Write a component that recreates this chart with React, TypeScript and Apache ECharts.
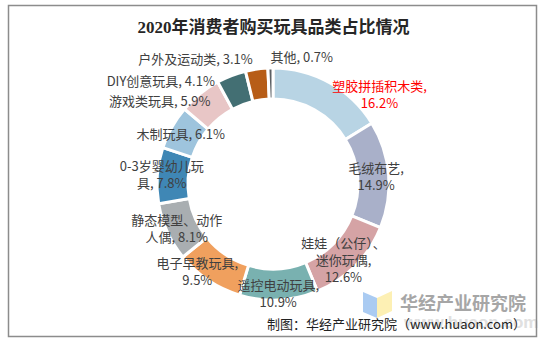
import React, { useEffect, useRef } from "react";
import * as echarts from "echarts";

const categories = [
  "塑胶拼插积木类",
  "毛绒布艺",
  "娃娃（公仔）、迷你玩偶",
  "遥控电动玩具",
  "电子早教玩具",
  "静态模型、动作人偶",
  "0-3岁婴幼儿玩具",
  "木制玩具",
  "游戏类玩具",
  "DIY创意玩具",
  "户外及运动类",
  "其他",
];
const shares = [16.2, 14.9, 12.6, 10.9, 9.5, 8.1, 7.8, 6.1, 5.9, 4.1, 3.1, 0.7];
const labelTexts = [
  "塑胶拼插积木类,\n16.2%",
  "毛绒布艺,\n14.9%",
  "娃娃（公仔）、\n迷你玩偶,\n12.6%",
  "遥控电动玩具,\n10.9%",
  "电子早教玩具,\n9.5%",
  "静态模型、动作\n人偶, 8.1%",
  "0-3岁婴幼儿玩\n具, 7.8%",
  "木制玩具, 6.1%",
  "游戏类玩具, 5.9%",
  "DIY创意玩具, 4.1%",
  "户外及运动类, 3.1%",
  "其他, 0.7%",
];
const colors = [
  "#b8d4e4", "#a9b0c9", "#d5a3a5", "#79b1b0", "#f0a05e", "#a9aeb1",
  "#3f87b5", "#9ec4dd", "#e8c6c6", "#436f73", "#b75d17", "#5b5f63",
];
const labelNudges = [
  [56, 0], [0, 1], [-3, 3], [0, 6], [-18, 1], [-2, 1],
  [-8, -2], [-2, 0], [-48, -3], [-75, -7], [-63, -23], [31, -24],
];

export default function App() {
  const ref = useRef<HTMLDivElement>(null);
  useEffect(() => {
    const chart = echarts.init(ref.current!, null, { renderer: "svg" });
    chart.setOption({
      animation: false,
      backgroundColor: "#ffffff",
      title: {
        text: "2020年消费者购买玩具品类占比情况",
        left: "center",
        top: 14,
        textStyle: {
          fontFamily: "'Liberation Serif', 'Noto Sans CJK SC', serif",
          fontSize: 17,
          fontWeight: "bold",
          color: "#262626",
        },
      },
      series: [
        {
          type: "pie",
          center: [273, 184],
          radius: [85, 116],
          startAngle: 90,
          clockwise: true,
          avoidLabelOverlap: false,
          itemStyle: { borderColor: "#ffffff", borderWidth: 3 },
          label: {
            show: true,
            position: "inside",
            fontFamily: "'Noto Sans CJK SC', sans-serif",
            fontSize: 13,
            lineHeight: 17,
            color: "#404040",
            formatter: (p: any) => labelTexts[p.dataIndex],
          },
          labelLine: { show: false },
          labelLayout: (p: any) => ({
            dx: labelNudges[p.dataIndex][0],
            dy: labelNudges[p.dataIndex][1],
          }),
          data: categories.map((name, i) => ({
            name,
            value: shares[i],
            itemStyle: { color: colors[i] },
            label: i === 0 ? { color: "#ff0000" } : undefined,
          })),
        },
      ],
      graphic: [
        {
          type: "rect",
          shape: { x: 8.5, y: 5.5, width: 528, height: 331 },
          style: { fill: "none", stroke: "#8c8c8c", lineWidth: 1.5 },
          z: 10,
        },
        {
          type: "polygon",
          shape: { points: [[363, 292], [377, 298], [377, 318], [363, 312]] },
          style: { fill: "#aacbf2" },
        },
        {
          type: "polygon",
          shape: { points: [[377, 298], [392, 291], [392, 311], [377, 318]] },
          style: { fill: "#fdf0b4" },
        },
        {
          type: "text",
          x: 400,
          y: 302,
          style: {
            text: "华经产业研究院",
            fontFamily: "'Noto Sans CJK SC', sans-serif",
            fontSize: 18,
            fontWeight: "bold",
            fill: "#a6a6a6",
            verticalAlign: "middle",
          },
        },
        {
          type: "text",
          x: 404,
          y: 322,
          style: {
            text: "www.huaon.com",
            fontFamily: "'Liberation Sans', sans-serif",
            fontSize: 17,
            fontWeight: "bold",
            fill: "#e0e0e0",
            verticalAlign: "middle",
          },
        },
        {
          type: "text",
          x: 526,
          y: 323,
          style: {
            text: "制图：华经产业研究院（www.huaon.com）",
            fontFamily: "'Noto Sans CJK SC', sans-serif",
            fontSize: 13,
            fill: "#222222",
            align: "right",
            verticalAlign: "middle",
          },
          z: 5,
        },
      ],
    });
    return () => chart.dispose();
  }, []);
  return (
    <div
      ref={ref}
      style={{ position: "fixed", left: 0, top: 0, width: 547, height: 345 }}
    />
  );
}
